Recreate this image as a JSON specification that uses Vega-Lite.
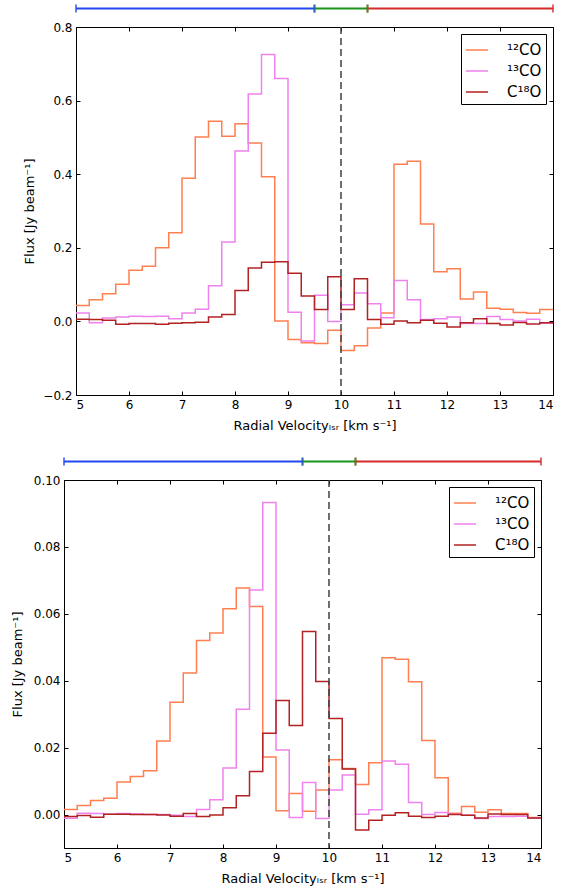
{
  "$schema": "https://vega.github.io/schema/vega-lite/v6.json",
  "padding": {"left": 10, "top": 4, "right": 5, "bottom": 5},
  "background": "white",
  "config": {
    "font": "DejaVu Sans",
    "view": {"stroke": "black", "strokeWidth": 1},
    "axis": {"domain": false, "domainColor": "black", "domainWidth": 1, "grid": false, "tickColor": "black", "tickSize": -4, "tickWidth": 1, "labelPadding": 8, "labelFontSize": 12, "labelColor": "black", "labelFont": "DejaVu Sans", "titleFont": "DejaVu Sans", "titleFontSize": 13, "titleFontWeight": "normal", "titleColor": "black"},
    "legend": {"title": null, "symbolType": "stroke", "symbolSize": 484, "symbolStrokeWidth": 1.5, "labelFontSize": 15, "labelFont": "DejaVu Sans", "labelColor": "black", "labelOffset": 18, "strokeColor": "black", "fillColor": "white", "padding": 4, "rowPadding": 1, "cornerRadius": 0},
    "tick": {"size": 8, "thickness": 2}
  },
  "datasets": {
    "ranges": [
      {"start": 5, "end": 9.5, "part": "blueshifted"},
      {"start": 9.5, "end": 10.5, "part": "systemic"},
      {"start": 10.5, "end": 14, "part": "redshifted"}
    ],
    "top": [
      {"v":5,"s":"¹²CO","f":0.043},{"v":5.25,"s":"¹²CO","f":0.059},{"v":5.5,"s":"¹²CO","f":0.075},{"v":5.75,"s":"¹²CO","f":0.101},
      {"v":6,"s":"¹²CO","f":0.139},{"v":6.25,"s":"¹²CO","f":0.150},{"v":6.5,"s":"¹²CO","f":0.200},{"v":6.75,"s":"¹²CO","f":0.241},
      {"v":7,"s":"¹²CO","f":0.389},{"v":7.25,"s":"¹²CO","f":0.501},{"v":7.5,"s":"¹²CO","f":0.544},{"v":7.75,"s":"¹²CO","f":0.503},
      {"v":8,"s":"¹²CO","f":0.537},{"v":8.25,"s":"¹²CO","f":0.485},{"v":8.5,"s":"¹²CO","f":0.393},{"v":8.75,"s":"¹²CO","f":0.001},
      {"v":9,"s":"¹²CO","f":-0.049},{"v":9.25,"s":"¹²CO","f":-0.058},{"v":9.5,"s":"¹²CO","f":-0.060},{"v":9.75,"s":"¹²CO","f":-0.024},
      {"v":10,"s":"¹²CO","f":-0.079},{"v":10.25,"s":"¹²CO","f":-0.066},{"v":10.5,"s":"¹²CO","f":-0.018},{"v":10.75,"s":"¹²CO","f":0.023},
      {"v":11,"s":"¹²CO","f":0.427},{"v":11.25,"s":"¹²CO","f":0.435},{"v":11.5,"s":"¹²CO","f":0.265},{"v":11.75,"s":"¹²CO","f":0.135},
      {"v":12,"s":"¹²CO","f":0.143},{"v":12.25,"s":"¹²CO","f":0.061},{"v":12.5,"s":"¹²CO","f":0.080},{"v":12.75,"s":"¹²CO","f":0.036},
      {"v":13,"s":"¹²CO","f":0.033},{"v":13.25,"s":"¹²CO","f":0.024},{"v":13.5,"s":"¹²CO","f":0.022},{"v":13.75,"s":"¹²CO","f":0.032},
      {"v":14,"s":"¹²CO","f":0.032},
      {"v":5,"s":"¹³CO","f":0.023},{"v":5.25,"s":"¹³CO","f":-0.004},{"v":5.5,"s":"¹³CO","f":0.009},{"v":5.75,"s":"¹³CO","f":0.012},
      {"v":6,"s":"¹³CO","f":0.014},{"v":6.25,"s":"¹³CO","f":0.013},{"v":6.5,"s":"¹³CO","f":0.014},{"v":6.75,"s":"¹³CO","f":0.007},
      {"v":7,"s":"¹³CO","f":0.023},{"v":7.25,"s":"¹³CO","f":0.033},{"v":7.5,"s":"¹³CO","f":0.097},{"v":7.75,"s":"¹³CO","f":0.216},
      {"v":8,"s":"¹³CO","f":0.463},{"v":8.25,"s":"¹³CO","f":0.618},{"v":8.5,"s":"¹³CO","f":0.725},{"v":8.75,"s":"¹³CO","f":0.660},
      {"v":9,"s":"¹³CO","f":0.025},{"v":9.25,"s":"¹³CO","f":-0.053},{"v":9.5,"s":"¹³CO","f":0.071},{"v":9.75,"s":"¹³CO","f":0.000},
      {"v":10,"s":"¹³CO","f":0.045},{"v":10.25,"s":"¹³CO","f":0.077},{"v":10.5,"s":"¹³CO","f":0.048},{"v":10.75,"s":"¹³CO","f":0.010},
      {"v":11,"s":"¹³CO","f":0.111},{"v":11.25,"s":"¹³CO","f":0.059},{"v":11.5,"s":"¹³CO","f":0.005},{"v":11.75,"s":"¹³CO","f":0.007},
      {"v":12,"s":"¹³CO","f":0.012},{"v":12.25,"s":"¹³CO","f":-0.006},{"v":12.5,"s":"¹³CO","f":-0.006},{"v":12.75,"s":"¹³CO","f":0.013},
      {"v":13,"s":"¹³CO","f":0.005},{"v":13.25,"s":"¹³CO","f":0.001},{"v":13.5,"s":"¹³CO","f":0.006},{"v":13.75,"s":"¹³CO","f":-0.005},
      {"v":14,"s":"¹³CO","f":-0.005},
      {"v":5,"s":"C¹⁸O","f":0.006},{"v":5.25,"s":"C¹⁸O","f":0.005},{"v":5.5,"s":"C¹⁸O","f":0.003},{"v":5.75,"s":"C¹⁸O","f":-0.008},
      {"v":6,"s":"C¹⁸O","f":-0.006},{"v":6.25,"s":"C¹⁸O","f":-0.006},{"v":6.5,"s":"C¹⁸O","f":-0.008},{"v":6.75,"s":"C¹⁸O","f":-0.005},
      {"v":7,"s":"C¹⁸O","f":-0.004},{"v":7.25,"s":"C¹⁸O","f":-0.002},{"v":7.5,"s":"C¹⁸O","f":0.012},{"v":7.75,"s":"C¹⁸O","f":0.019},
      {"v":8,"s":"C¹⁸O","f":0.084},{"v":8.25,"s":"C¹⁸O","f":0.145},{"v":8.5,"s":"C¹⁸O","f":0.161},{"v":8.75,"s":"C¹⁸O","f":0.162},
      {"v":9,"s":"C¹⁸O","f":0.131},{"v":9.25,"s":"C¹⁸O","f":0.069},{"v":9.5,"s":"C¹⁸O","f":0.032},{"v":9.75,"s":"C¹⁸O","f":0.121},
      {"v":10,"s":"C¹⁸O","f":0.032},{"v":10.25,"s":"C¹⁸O","f":0.116},{"v":10.5,"s":"C¹⁸O","f":0.005},{"v":10.75,"s":"C¹⁸O","f":-0.008},
      {"v":11,"s":"C¹⁸O","f":0.001},{"v":11.25,"s":"C¹⁸O","f":-0.004},{"v":11.5,"s":"C¹⁸O","f":0.003},{"v":11.75,"s":"C¹⁸O","f":-0.005},
      {"v":12,"s":"C¹⁸O","f":-0.015},{"v":12.25,"s":"C¹⁸O","f":-0.004},{"v":12.5,"s":"C¹⁸O","f":0.007},{"v":12.75,"s":"C¹⁸O","f":-0.006},
      {"v":13,"s":"C¹⁸O","f":-0.010},{"v":13.25,"s":"C¹⁸O","f":-0.003},{"v":13.5,"s":"C¹⁸O","f":-0.007},{"v":13.75,"s":"C¹⁸O","f":-0.004},
      {"v":14,"s":"C¹⁸O","f":-0.004}
    ],
    "bottom": [
      {"v":5,"s":"¹²CO","f":0.0015},{"v":5.25,"s":"¹²CO","f":0.0027},{"v":5.5,"s":"¹²CO","f":0.0042},{"v":5.75,"s":"¹²CO","f":0.0049},
      {"v":6,"s":"¹²CO","f":0.0097},{"v":6.25,"s":"¹²CO","f":0.0114},{"v":6.5,"s":"¹²CO","f":0.0131},{"v":6.75,"s":"¹²CO","f":0.0220},
      {"v":7,"s":"¹²CO","f":0.0336},{"v":7.25,"s":"¹²CO","f":0.0423},{"v":7.5,"s":"¹²CO","f":0.0520},{"v":7.75,"s":"¹²CO","f":0.0543},
      {"v":8,"s":"¹²CO","f":0.0615},{"v":8.25,"s":"¹²CO","f":0.0677},{"v":8.5,"s":"¹²CO","f":0.0622},{"v":8.75,"s":"¹²CO","f":0.0172},
      {"v":9,"s":"¹²CO","f":0.0011},{"v":9.25,"s":"¹²CO","f":0.0063},{"v":9.5,"s":"¹²CO","f":0.0010},{"v":9.75,"s":"¹²CO","f":0.0073},
      {"v":10,"s":"¹²CO","f":0.0164},{"v":10.25,"s":"¹²CO","f":0.0138},{"v":10.5,"s":"¹²CO","f":0.0090},{"v":10.75,"s":"¹²CO","f":0.0155},
      {"v":11,"s":"¹²CO","f":0.0469},{"v":11.25,"s":"¹²CO","f":0.0464},{"v":11.5,"s":"¹²CO","f":0.0397},{"v":11.75,"s":"¹²CO","f":0.0221},
      {"v":12,"s":"¹²CO","f":0.0110},{"v":12.25,"s":"¹²CO","f":0.0004},{"v":12.5,"s":"¹²CO","f":0.0024},{"v":12.75,"s":"¹²CO","f":0.0007},
      {"v":13,"s":"¹²CO","f":0.0014},{"v":13.25,"s":"¹²CO","f":0.0003},{"v":13.5,"s":"¹²CO","f":0.0003},{"v":13.75,"s":"¹²CO","f":-0.0009},
      {"v":14,"s":"¹²CO","f":-0.0009},
      {"v":5,"s":"¹³CO","f":-0.0011},{"v":5.25,"s":"¹³CO","f":0.0004},{"v":5.5,"s":"¹³CO","f":0.0003},{"v":5.75,"s":"¹³CO","f":0.0001},
      {"v":6,"s":"¹³CO","f":0.0003},{"v":6.25,"s":"¹³CO","f":0.0002},{"v":6.5,"s":"¹³CO","f":0.0000},{"v":6.75,"s":"¹³CO","f":0.0000},
      {"v":7,"s":"¹³CO","f":-0.0002},{"v":7.25,"s":"¹³CO","f":-0.0006},{"v":7.5,"s":"¹³CO","f":0.0015},{"v":7.75,"s":"¹³CO","f":0.0044},
      {"v":8,"s":"¹³CO","f":0.0139},{"v":8.25,"s":"¹³CO","f":0.0315},{"v":8.5,"s":"¹³CO","f":0.0671},{"v":8.75,"s":"¹³CO","f":0.0933},
      {"v":9,"s":"¹³CO","f":0.0193},{"v":9.25,"s":"¹³CO","f":-0.0009},{"v":9.5,"s":"¹³CO","f":0.0096},{"v":9.75,"s":"¹³CO","f":-0.0012},
      {"v":10,"s":"¹³CO","f":0.0073},{"v":10.25,"s":"¹³CO","f":0.0118},{"v":10.5,"s":"¹³CO","f":0.0001},{"v":10.75,"s":"¹³CO","f":0.0014},
      {"v":11,"s":"¹³CO","f":0.0160},{"v":11.25,"s":"¹³CO","f":0.0150},{"v":11.5,"s":"¹³CO","f":0.0036},{"v":11.75,"s":"¹³CO","f":0.0000},
      {"v":12,"s":"¹³CO","f":0.0006},{"v":12.25,"s":"¹³CO","f":0.0001},{"v":12.5,"s":"¹³CO","f":-0.0002},{"v":12.75,"s":"¹³CO","f":-0.0012},
      {"v":13,"s":"¹³CO","f":-0.0006},{"v":13.25,"s":"¹³CO","f":-0.0006},{"v":13.5,"s":"¹³CO","f":-0.0005},{"v":13.75,"s":"¹³CO","f":-0.0010},
      {"v":14,"s":"¹³CO","f":-0.0010},
      {"v":5,"s":"C¹⁸O","f":-0.0006},{"v":5.25,"s":"C¹⁸O","f":-0.0003},{"v":5.5,"s":"C¹⁸O","f":-0.0008},{"v":5.75,"s":"C¹⁸O","f":0.0001},
      {"v":6,"s":"C¹⁸O","f":0.0001},{"v":6.25,"s":"C¹⁸O","f":0.0000},{"v":6.5,"s":"C¹⁸O","f":0.0000},{"v":6.75,"s":"C¹⁸O","f":-0.0001},
      {"v":7,"s":"C¹⁸O","f":-0.0005},{"v":7.25,"s":"C¹⁸O","f":0.0003},{"v":7.5,"s":"C¹⁸O","f":-0.0006},{"v":7.75,"s":"C¹⁸O","f":-0.0001},
      {"v":8,"s":"C¹⁸O","f":0.0020},{"v":8.25,"s":"C¹⁸O","f":0.0056},{"v":8.5,"s":"C¹⁸O","f":0.0129},{"v":8.75,"s":"C¹⁸O","f":0.0243},
      {"v":9,"s":"C¹⁸O","f":0.0341},{"v":9.25,"s":"C¹⁸O","f":0.0266},{"v":9.5,"s":"C¹⁸O","f":0.0547},{"v":9.75,"s":"C¹⁸O","f":0.0398},
      {"v":10,"s":"C¹⁸O","f":0.0287},{"v":10.25,"s":"C¹⁸O","f":0.0136},{"v":10.5,"s":"C¹⁸O","f":-0.0046},{"v":10.75,"s":"C¹⁸O","f":-0.0017},
      {"v":11,"s":"C¹⁸O","f":-0.0002},{"v":11.25,"s":"C¹⁸O","f":0.0005},{"v":11.5,"s":"C¹⁸O","f":-0.0005},{"v":11.75,"s":"C¹⁸O","f":-0.0009},
      {"v":12,"s":"C¹⁸O","f":-0.0005},{"v":12.25,"s":"C¹⁸O","f":0.0000},{"v":12.5,"s":"C¹⁸O","f":-0.0002},{"v":12.75,"s":"C¹⁸O","f":-0.0010},
      {"v":13,"s":"C¹⁸O","f":0.0002},{"v":13.25,"s":"C¹⁸O","f":0.0000},{"v":13.5,"s":"C¹⁸O","f":0.0000},{"v":13.75,"s":"C¹⁸O","f":-0.0010},
      {"v":14,"s":"C¹⁸O","f":-0.0010}
    ]
  },
  "vconcat": [
    {
      "width": 489,
      "height": 368,
      "view": {"stroke": null},
      "resolve": {"axis": {"x": "independent", "y": "independent"}},
      "layer": [
        {
          "data": {"name": "top"},
          "mark": {"type": "line", "interpolate": "step-after", "strokeWidth": 1.5},
          "encoding": {
            "x": {"field": "v", "type": "quantitative", "scale": {"domain": [5, 14], "range": [12, 489], "nice": false, "zero": false},
                  "axis": {"values": [5, 6, 7, 8, 9, 10, 11, 12, 13, 14], "title": "Radial Velocityₗₛᵣ [km s⁻¹]", "titlePadding": 9, "domain": true}},
            "y": {"field": "f", "type": "quantitative", "scale": {"domain": [-0.2, 0.8], "nice": false, "zero": false},
                  "axis": {"values": [-0.2, 0, 0.2, 0.4, 0.6, 0.8], "format": ".1f", "title": "Flux [Jy beam⁻¹]", "titlePadding": 6, "offset": -12, "domain": true}},
            "color": {"field": "s", "type": "nominal",
                      "scale": {"domain": ["¹²CO", "¹³CO", "C¹⁸O"], "range": ["#FF7F50", "#EE82EE", "#B22222"]},
                      "legend": {"orient": "top-right", "offset": 7}}
          }
        },
        {
          "data": {"values": [{}]},
          "mark": {"type": "rule", "strokeDash": [7, 4], "strokeWidth": 1.5, "color": "#404040"},
          "encoding": {
            "x": {"datum": 10, "type": "quantitative", "axis": {"orient": "top", "values": [5, 6, 7, 8, 9, 10, 11, 12, 13, 14], "labels": false, "title": null, "domain": true}}
          }
        },
        {
          "data": {"name": "ranges"},
          "mark": {"type": "rule", "strokeWidth": 2},
          "encoding": {
            "x": {"field": "start", "type": "quantitative", "axis": null},
            "x2": {"field": "end"},
            "y": {"datum": 0.85, "type": "quantitative", "axis": {"orient": "right", "values": [-0.2, 0, 0.2, 0.4, 0.6, 0.8], "labels": false, "title": null, "domain": true}},
            "stroke": {"field": "part", "type": "nominal", "scale": {"domain": ["blueshifted", "systemic", "redshifted"], "range": ["#2348f0", "#1a961a", "#d42a2a"]}, "legend": null}
          }
        },
        {
          "data": {"name": "ranges"},
          "mark": {"type": "tick", "orient": "vertical"},
          "encoding": {
            "x": {"field": "start", "type": "quantitative", "axis": null},
            "y": {"datum": 0.85, "type": "quantitative", "axis": null},
            "fill": {"field": "part", "type": "nominal", "scale": {"domain": ["blueshifted", "systemic", "redshifted"], "range": ["#2348f0", "#1a961a", "#d42a2a"]}, "legend": null}
          }
        },
        {
          "data": {"name": "ranges"},
          "mark": {"type": "tick", "orient": "vertical"},
          "encoding": {
            "x": {"field": "end", "type": "quantitative", "axis": null},
            "y": {"datum": 0.85, "type": "quantitative", "axis": null},
            "fill": {"field": "part", "type": "nominal", "scale": {"domain": ["blueshifted", "systemic", "redshifted"], "range": ["#2348f0", "#1a961a", "#d42a2a"]}, "legend": null}
          }
        }
      ]
    },
    {
      "width": 477,
      "height": 368,
      "resolve": {"axis": {"x": "independent", "y": "independent"}},
      "layer": [
        {
          "data": {"name": "bottom"},
          "mark": {"type": "line", "interpolate": "step-after", "strokeWidth": 1.5},
          "encoding": {
            "x": {"field": "v", "type": "quantitative", "scale": {"domain": [5, 14], "nice": false, "zero": false},
                  "axis": {"values": [5, 6, 7, 8, 9, 10, 11, 12, 13, 14], "title": "Radial Velocityₗₛᵣ [km s⁻¹]", "titlePadding": 9}},
            "y": {"field": "f", "type": "quantitative", "scale": {"domain": [-0.01, 0.1], "nice": false, "zero": false},
                  "axis": {"values": [0, 0.02, 0.04, 0.06, 0.08, 0.1], "format": ".2f", "title": "Flux [Jy beam⁻¹]", "titlePadding": 9}},
            "color": {"field": "s", "type": "nominal",
                      "scale": {"domain": ["¹²CO", "¹³CO", "C¹⁸O"], "range": ["#FF7F50", "#EE82EE", "#B22222"]},
                      "legend": {"orient": "top-right", "offset": 7}}
          }
        },
        {
          "data": {"values": [{}]},
          "mark": {"type": "rule", "strokeDash": [7, 4], "strokeWidth": 1.5, "color": "#404040"},
          "encoding": {
            "x": {"datum": 10, "type": "quantitative", "axis": {"orient": "top", "values": [5, 6, 7, 8, 9, 10, 11, 12, 13, 14], "labels": false, "title": null}}
          }
        },
        {
          "data": {"name": "ranges"},
          "mark": {"type": "rule", "strokeWidth": 2},
          "encoding": {
            "x": {"field": "start", "type": "quantitative", "axis": null},
            "x2": {"field": "end"},
            "y": {"datum": 0.1055, "type": "quantitative", "axis": {"orient": "right", "values": [0, 0.02, 0.04, 0.06, 0.08, 0.1], "labels": false, "title": null}},
            "stroke": {"field": "part", "type": "nominal", "scale": {"domain": ["blueshifted", "systemic", "redshifted"], "range": ["#2348f0", "#1a961a", "#d42a2a"]}, "legend": null}
          }
        },
        {
          "data": {"name": "ranges"},
          "mark": {"type": "tick", "orient": "vertical"},
          "encoding": {
            "x": {"field": "start", "type": "quantitative", "axis": null},
            "y": {"datum": 0.1055, "type": "quantitative", "axis": null},
            "fill": {"field": "part", "type": "nominal", "scale": {"domain": ["blueshifted", "systemic", "redshifted"], "range": ["#2348f0", "#1a961a", "#d42a2a"]}, "legend": null}
          }
        },
        {
          "data": {"name": "ranges"},
          "mark": {"type": "tick", "orient": "vertical"},
          "encoding": {
            "x": {"field": "end", "type": "quantitative", "axis": null},
            "y": {"datum": 0.1055, "type": "quantitative", "axis": null},
            "fill": {"field": "part", "type": "nominal", "scale": {"domain": ["blueshifted", "systemic", "redshifted"], "range": ["#2348f0", "#1a961a", "#d42a2a"]}, "legend": null}
          }
        }
      ]
    }
  ],
  "spacing": 25,
  "resolve": {
    "scale": {"x": "independent", "y": "independent", "color": "independent", "stroke": "independent", "fill": "independent"},
    "legend": {"color": "independent"}
  }
}
